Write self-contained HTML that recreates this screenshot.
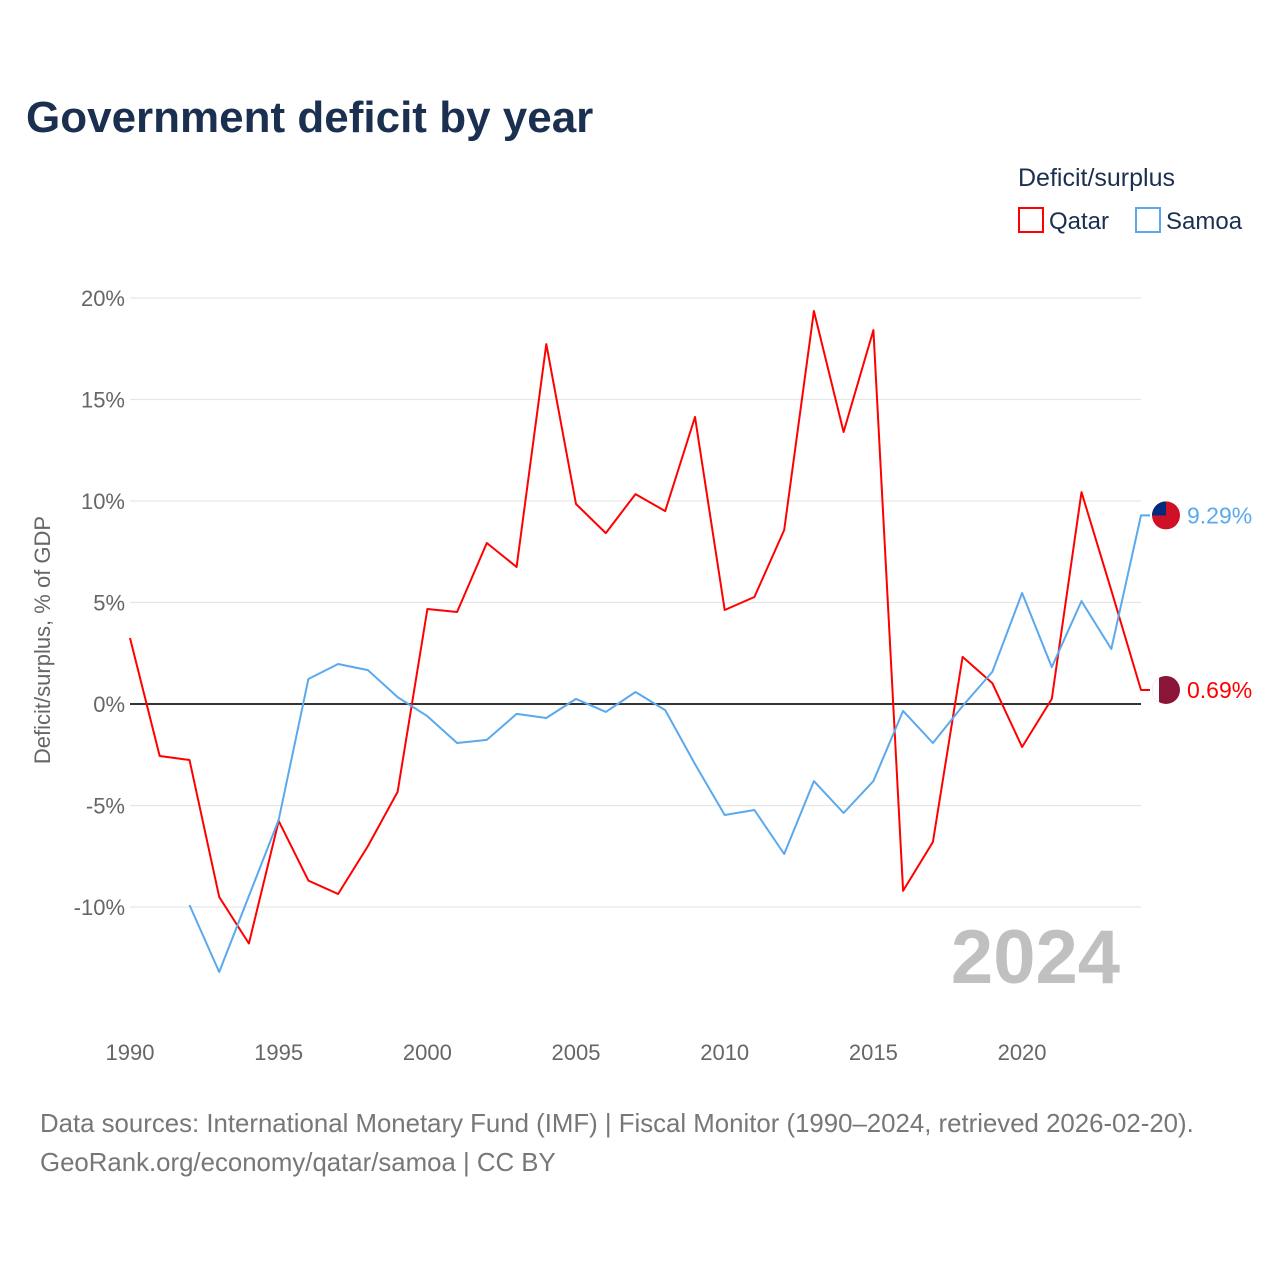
<!DOCTYPE html>
<html><head><meta charset="utf-8"><style>
body{margin:0;background:#fff;font-family:"Liberation Sans",sans-serif;}
#wrap{position:relative;width:1280px;height:1280px;}
</style></head><body>
<div id="wrap">
<svg id="chart" width="1280" height="1280" xmlns="http://www.w3.org/2000/svg">
<defs><clipPath id="cq"><circle id="cqc" cx="1166" cy="690" r="14"/></clipPath><clipPath id="cs"><circle id="csc" cx="1166" cy="515" r="14"/></clipPath></defs>
<text x="26" y="132" font-size="44" font-weight="bold" fill="#1b3050">Government deficit by year</text>
<text x="1018" y="186" font-size="25" fill="#1b3050">Deficit/surplus</text>
<g><rect x="1019" y="208" width="24" height="24" fill="none" stroke="#ff0000" stroke-width="2"/><text x="1049" y="229" font-size="24" fill="#1b3050">Qatar</text></g>
<g><rect x="1136" y="208" width="24" height="24" fill="none" stroke="#5aa9ee" stroke-width="2"/><text x="1166" y="229" font-size="24" fill="#1b3050">Samoa</text></g>
<text transform="translate(50,640) rotate(-90)" text-anchor="middle" font-size="22" fill="#666">Deficit/surplus, % of GDP</text>
<g id="grid"></g><g id="xt"></g>
<text x="1120" y="983" text-anchor="end" font-size="76" font-weight="bold" fill="#c0c0c0">2024</text>
<g id="series"></g>
<text x="40" y="1132" font-size="25.8" fill="#777">Data sources: International Monetary Fund (IMF) | Fiscal Monitor (1990–2024, retrieved 2026-02-20).</text>
<text x="40" y="1171" font-size="25.8" fill="#777">GeoRank.org/economy/qatar/samoa | CC BY</text>
</svg></div>
<script>
const years=[];for(let y=1990;y<=2024;y++)years.push(y);
const qatar=[3.25,-2.56,-2.76,-9.5,-11.8,-5.76,-8.7,-9.36,-7.0,-4.33,4.68,4.53,7.93,6.75,17.73,9.85,8.42,10.34,9.5,14.14,4.63,5.27,8.57,19.36,13.4,18.42,-9.2,-6.8,2.32,1.03,-2.12,0.25,10.44,5.6,0.69];
const samoa=[null,null,-9.9,-13.2,-9.46,-5.7,1.23,1.97,1.67,0.34,-0.6,-1.92,-1.77,-0.49,-0.69,0.25,-0.39,0.59,-0.3,-2.96,-5.47,-5.22,-7.39,-3.8,-5.37,-3.8,-0.34,-1.92,-0.1,1.58,5.47,1.82,5.07,2.71,9.29];
const yTicks=[-10,-5,0,5,10,15,20];
const xTicks=[1990,1995,2000,2005,2010,2015,2020];
const NS="http://www.w3.org/2000/svg";
const X=y=>130+(y-1990)*(1141-130)/34;
const Y=v=>704-v*20.3;
function el(t,a,p){const e=document.createElementNS(NS,t);for(const k in a)e.setAttribute(k,a[k]);p.appendChild(e);return e;}
const grid=document.getElementById('grid');
yTicks.forEach(v=>{
 const l=el('line',{x1:130,x2:1141,y1:Y(v),y2:Y(v),stroke:v===0?'#333':'#e6e6e6','stroke-width':v===0?2:1.2},grid);
 
 
 const t=el('text',{x:125,y:Y(v)+8,'text-anchor':'end','font-size':22,fill:'#666'},grid);
 t.textContent=v+'%';
 
 
});
const xt=document.getElementById('xt');
xTicks.forEach(y=>{
 const t=el('text',{x:X(y),y:1060,'text-anchor':'middle','font-size':22,fill:'#666'},xt);
 t.textContent=y;
 
 
});
const S=document.getElementById('series');
function line(vals,color,name){
 let d='';vals.forEach((v,i)=>{if(v===null)return;d+=(d?'L':'M')+X(years[i]).toFixed(1)+','+Y(v).toFixed(1);});
 const last=vals[vals.length-1];
 d+='L'+(X(2024)+9)+','+Y(last).toFixed(1);
 const p=el('path',{d:d,fill:'none',stroke:color,'stroke-width':2,'stroke-linejoin':'round'},S);
 
 
 return last;
}
const ql=line(qatar,'#ff0000','qatar');
const sl=line(samoa,'#5aa9ee','samoa');
document.getElementById('cqc').setAttribute('cy',Y(ql));
document.getElementById('csc').setAttribute('cy',Y(sl));
const fq=el('g',{'clip-path':'url(#cq)'},S);


el('rect',{x:1152,y:Y(ql)-14,width:28,height:28,fill:'#8a1538'},fq);
el('rect',{x:1152,y:Y(ql)-14,width:7,height:28,fill:'#fff'},fq);
const fs=el('g',{'clip-path':'url(#cs)'},S);


el('rect',{x:1152,y:Y(sl)-14,width:28,height:28,fill:'#ce1126'},fs);
el('rect',{x:1152,y:Y(sl)-14,width:14,height:14,fill:'#002b7f'},fs);
const tq=el('text',{x:1187,y:Y(ql)+8,'font-size':23,fill:'#ff0000'},S);
tq.textContent=ql.toFixed(2)+'%';


const ts=el('text',{x:1187,y:Y(sl)+8,'font-size':23,fill:'#5aa9ee'},S);
ts.textContent=sl.toFixed(2)+'%';


</script>
</body></html>
